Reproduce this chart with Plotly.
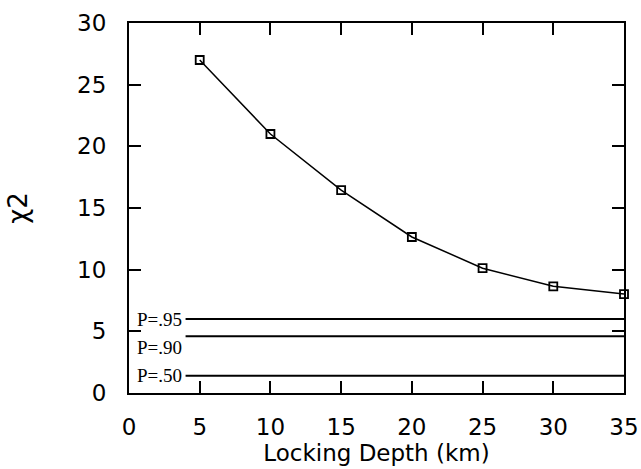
import plotly.graph_objects as go

depth_km = [5, 10, 15, 20, 25, 30, 35]
chi2 = [27.0, 21.0, 16.45, 12.65, 10.12, 8.65, 8.02]

levels = ["P=.95", "P=.90", "P=.50"]
thresholds = [5.99, 4.61, 1.39]
label_y = [5.99, 3.65, 1.39]
line_start = 4
line_end = 35

fig = go.Figure()

for lev, thr in zip(levels, thresholds):
    fig.add_trace(go.Scatter(x=[line_start, line_end], y=[thr, thr], mode="lines",
                             line=dict(color="black", width=2), showlegend=False,
                             hoverinfo="skip", cliponaxis=False))

fig.add_trace(go.Scatter(x=depth_km, y=chi2, mode="lines+markers",
                         line=dict(color="black", width=1.5),
                         marker=dict(symbol="square-open", size=8, color="black",
                                     line=dict(width=1.8, color="black")),
                         showlegend=False, cliponaxis=False))

for lev, ly in zip(levels, label_y):
    fig.add_annotation(x=line_start, y=ly, text=lev, showarrow=False,
                       xanchor="right", yanchor="middle", xshift=-2,
                       font=dict(family="Liberation Serif", size=19, color="black"))

axis_common = dict(showline=True, linecolor="black", linewidth=2, mirror="ticks",
                   ticks="inside", ticklen=12, tickwidth=1.5, tickcolor="black",
                   showgrid=False, zeroline=False,
                   tickfont=dict(family="DejaVu Sans", size=23, color="black"))

fig.update_xaxes(range=[0, 35], tickvals=[0, 5, 10, 15, 20, 25, 30, 35],
                 ticklabelstandoff=12,
                 title=dict(text="Locking Depth (km)", standoff=2,
                            font=dict(family="DejaVu Sans", size=23, color="black")),
                 **axis_common)
fig.update_yaxes(range=[0, 30], tickvals=[0, 5, 10, 15, 20, 25, 30],
                 ticklabelstandoff=16,
                 title=dict(text="χ2", standoff=42,
                            font=dict(family="DejaVu Sans", size=26, color="black")),
                 **axis_common)

fig.update_layout(width=641, height=469,
                  margin=dict(l=129, r=17, t=23, b=76, autoexpand=False),
                  plot_bgcolor="white", paper_bgcolor="white")

fig.write_html("out.html")
